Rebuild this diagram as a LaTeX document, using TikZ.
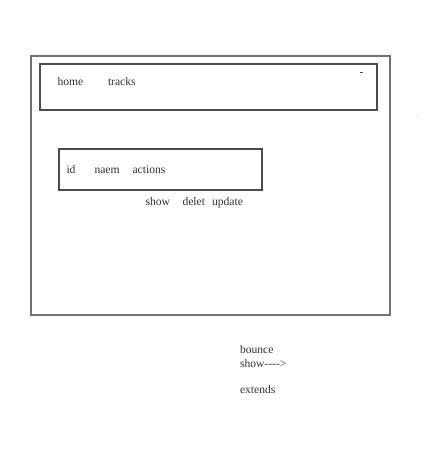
\documentclass[tikz,border=0pt]{standalone}
\usepackage{fontspec}
\setmainfont{Liberation Serif}
\begin{document}
\begin{tikzpicture}[x=1pt,y=-1pt,
  lbl/.style={anchor=base west,inner sep=0pt,outer sep=0pt,font=\fontsize{11.6pt}{13pt}\selectfont,text=black!80},
  outerbox/.style={draw=black!55,line width=1.3pt},
  innerbox/.style={draw=black!70,line width=1.3pt}]
\useasboundingbox (0,0) rectangle (425,455);
\fill[white] (0,0) rectangle (425,455);
% frames
\draw[outerbox] (31,56) rectangle (390,315);
\draw[innerbox] (40,64) rectangle (377,110);
\draw[innerbox] (59,149) rectangle (262,190);
% marks
\draw[black!70,line width=1pt] (359.5,72) -- (362.5,72);
\fill[black!25] (418,116) circle (0.7);
% texts
\node[lbl] (home) at (57.5,85.5) {home};
\node[lbl] (tracks) at (108,85.5) {tracks};
\node[lbl] (id) at (66.5,173) {id};
\node[lbl] (naem) at (94.5,173) {naem};
\node[lbl] (actions) at (132.5,173) {actions};
\node[lbl] (show) at (145.5,205.5) {show};
\node[lbl] (delet) at (182.5,205.5) {delet};
\node[lbl] (update) at (212,205.5) {update};
\node[lbl] (bounce) at (240,353.5) {bounce};
\node[lbl] (showarrow) at (240,367) {show-{}-{}-{}->};
\node[lbl] (extends) at (240,393.5) {extends};
\end{tikzpicture}
\end{document}
